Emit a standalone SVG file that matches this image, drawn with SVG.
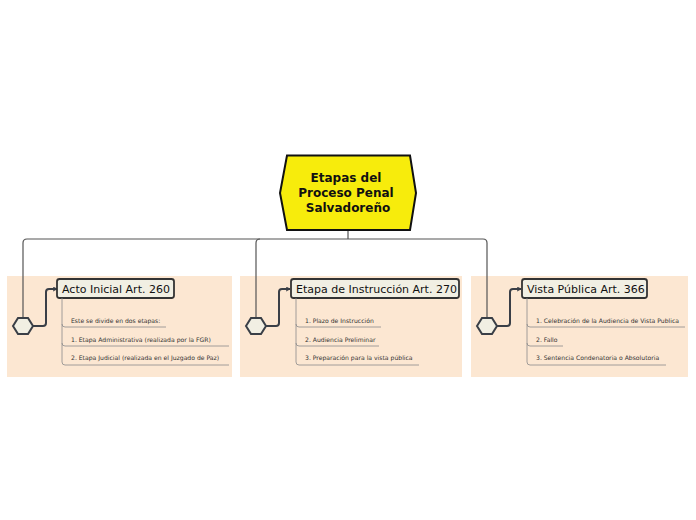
<svg xmlns="http://www.w3.org/2000/svg" width="696" height="520" viewBox="0 0 696 520">
<style>
.panel{fill:#fce7d2}
.conn{fill:none;stroke:#555;stroke-width:1.2}
.thick{fill:none;stroke:#3a3f47;stroke-width:2}
.sub{fill:none;stroke:#8a8a8a;stroke-width:0.8}
.dia{fill:#f1efe3;stroke:#3a3f47;stroke-width:2}
.topic{fill:#f1efe3;stroke:#333;stroke-width:1.8}
.tt{font-family:"DejaVu Sans",sans-serif;font-size:11px;fill:#111}
.st{font-family:"DejaVu Sans",sans-serif;font-size:6.1px;fill:#333}
.ct{font-family:"DejaVu Sans",sans-serif;font-size:12px;font-weight:bold;fill:#111;text-anchor:middle}
</style>
<defs>
<marker id="arr" viewBox="0 0 10 10" refX="9" refY="5" markerWidth="5" markerHeight="5" orient="auto" markerUnits="userSpaceOnUse">
<path d="M1,1 L9,5 L1,9" fill="none" stroke="#3a3f47" stroke-width="2"/>
</marker>
</defs>
<rect class="panel" x="7" y="276" width="225" height="101"/>
<rect class="panel" x="240" y="276" width="222" height="101"/>
<rect class="panel" x="471" y="276" width="217" height="101"/>
<g id="connectors">
<path class="conn" d="M348,230 V239"/>
<path class="conn" d="M27,239 H483 Q487,239 487,243 V318"/>
<path class="conn" d="M27,239 Q23,239 23,243 V318"/>
<path class="conn" d="M260,239 Q256,239 256,243 V318"/>
<path class="thick" d="M33,326 H43 Q46,326 46,323 V292 Q46,289 49,289 H57" marker-end="url(#arr)"/>
<path class="thick" d="M266,326 H276 Q279,326 279,323 V292 Q279,289 282,289 H290" marker-end="url(#arr)"/>
<path class="thick" d="M497,326 H507 Q510,326 510,323 V292 Q510,289 513,289 H521" marker-end="url(#arr)"/>
</g>
<g id="center">
<path d="M287,155.5 H410 L416,193 L410,230 H287 L280,193 Z" fill="#f7ec0c" stroke="#111" stroke-width="2"/>
<text class="ct" x="346" y="182">Etapas del</text>
<text class="ct" x="346" y="197">Proceso Penal</text>
<text class="ct" x="348" y="212">Salvadoreño</text>
</g>
<g id="d1"><path class="dia" d="M13,326 L18,318 H28 L33,326 L28,334 H18 Z"/></g>
<g id="d2"><path class="dia" d="M246,326 L251,318 H261 L266,326 L261,334 H251 Z"/></g>
<g id="d3"><path class="dia" d="M477,326 L482,318 H492 L497,326 L492,334 H482 Z"/></g>
<g id="topic1">
<rect class="topic" x="57" y="279" width="117" height="19" rx="2.5"/>
<text class="tt" x="62" y="293">Acto Inicial Art. 260</text>
<path class="sub" d="M62,298 V362 Q62,365 65,365 H229 M62,324 Q62,327 65,327 H166 M62,343 Q62,346 65,346 H229"/>
<text class="st" x="71" y="323">Este se divide en dos etapas:</text>
<text class="st" x="71" y="342">1. Etapa Administrativa (realizada por la FGR)</text>
<text class="st" x="71" y="360">2. Etapa Judicial (realizada en el Juzgado de Paz)</text>
</g>
<g id="topic2">
<rect class="topic" x="291" y="279" width="168" height="19" rx="2.5"/>
<text class="tt" x="296" y="293">Etapa de Instrucción Art. 270</text>
<path class="sub" d="M296,298 V362 Q296,365 299,365 H419 M296,324 Q296,327 299,327 H381 M296,343 Q296,346 299,346 H379"/>
<text class="st" x="305" y="323">1. Plazo de Instrucción</text>
<text class="st" x="305" y="342">2. Audiencia Preliminar</text>
<text class="st" x="305" y="360">3. Preparación para la vista pública</text>
</g>
<g id="topic3">
<rect class="topic" x="522" y="279" width="125" height="19" rx="2.5"/>
<text class="tt" x="527" y="293">Vista Pública Art. 366</text>
<path class="sub" d="M527,298 V362 Q527,365 530,365 H666 M527,324 Q527,327 530,327 H685 M527,343 Q527,346 530,346 H563"/>
<text class="st" x="536" y="323">1. Celebración de la Audiencia de Vista Publica</text>
<text class="st" x="536" y="342">2. Fallo</text>
<text class="st" x="536" y="360">3. Sentencia Condenatoria o Absolutoria</text>
</g>
</svg>
